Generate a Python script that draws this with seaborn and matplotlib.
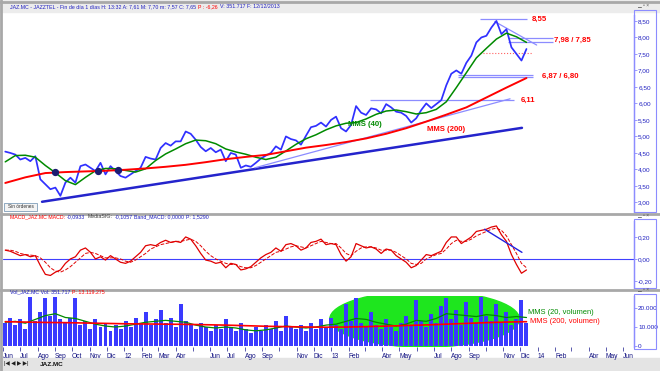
import pandas as pd
import matplotlib
matplotlib.use('Agg')
import matplotlib.pyplot as plt
import matplotlib.dates as mdates
from matplotlib.patches import Ellipse, Rectangle
from matplotlib.lines import Line2D
from matplotlib.ticker import FuncFormatter
import seaborn as sns

# JAZ.MC, one value about every 9 days, Jun 2011 -> 12/12/2013
price = [
    4.54, 4.50, 4.45, 4.30, 4.35, 4.25, 4.40, 3.70, 3.55, 3.40,
    3.45, 3.20, 3.60, 3.75, 3.60, 4.10, 4.15, 4.05, 3.95, 4.20,
    3.85, 4.10, 3.95, 3.80, 3.75, 3.85, 3.95, 4.05, 4.38, 4.33,
    4.30, 4.65, 4.80, 4.72, 4.85, 4.85, 5.15, 5.08, 4.90, 4.68,
    4.55, 4.65, 4.52, 4.60, 4.25, 4.50, 4.45, 4.05, 4.12, 4.08,
    4.20, 4.33, 4.42, 4.50, 4.70, 4.60, 5.00, 4.92, 4.88, 4.75,
    5.02, 5.28, 5.32, 5.42, 5.30, 5.50, 5.60, 5.25, 5.15, 5.35,
    5.92, 5.72, 5.65, 5.85, 5.82, 5.70, 5.98, 5.88, 5.75, 5.72,
    5.62, 5.42, 5.55, 5.80, 6.00, 5.86, 5.98, 6.10, 6.55, 6.90,
    7.00, 6.90, 7.23, 7.45, 7.85, 8.00, 8.05, 8.30, 8.50, 8.10,
    8.25, 7.70, 7.50, 7.30, 7.65]

mms40 = [
    4.23, 4.42, 4.43, 4.37, 4.12, 3.90, 3.66, 3.54, 3.76, 3.96,
    4.03, 4.02, 3.97, 3.92, 4.02, 4.27, 4.47, 4.62, 4.78, 4.89,
    4.87, 4.78, 4.62, 4.53, 4.46, 4.37, 4.30, 4.37, 4.56, 4.76,
    4.93, 5.05, 5.20, 5.32, 5.40, 5.42, 5.53, 5.67, 5.77, 5.80,
    5.75, 5.68, 5.72, 5.82, 6.05, 6.48, 6.93, 7.38, 7.67, 7.95,
    8.13, 8.02, 7.85]

mms200 = [
    3.59, 3.76, 3.89, 3.92, 3.94, 3.96, 3.99, 4.03, 4.08, 4.14,
    4.22, 4.31, 4.38, 4.44, 4.55, 4.66, 4.74, 4.83, 4.94, 5.08,
    5.25, 5.45, 5.66, 5.88, 6.18, 6.48, 6.77]

macd = [
    0.08, 0.07, 0.05, 0.03, 0.04, 0.02, 0.03, -0.06, -0.14, -0.15,
    -0.12, -0.10, -0.04, 0.00, 0.02, 0.08, 0.10, 0.06, 0.00, 0.02,
    -0.01, 0.03, 0.00, -0.03, -0.04, -0.02, 0.02, 0.06, 0.12, 0.13,
    0.12, 0.15, 0.17, 0.15, 0.16, 0.15, 0.20, 0.18, 0.12, 0.05,
    -0.01, -0.02, -0.04, -0.03, -0.08, -0.04, -0.05, -0.10, -0.09, -0.07,
    -0.03, 0.01, 0.04, 0.06, 0.10, 0.07, 0.13, 0.14, 0.12, 0.08,
    0.10, 0.15, 0.16, 0.18, 0.13, 0.14, 0.13, 0.04, -0.02, 0.02,
    0.14, 0.12, 0.10, 0.11, 0.09, 0.05, 0.09, 0.08, 0.03, 0.00,
    -0.03, -0.08, -0.06, -0.01, 0.04, 0.03, 0.05, 0.07, 0.15, 0.20,
    0.20, 0.14, 0.17, 0.20, 0.25, 0.26, 0.27, 0.29, 0.30, 0.22,
    0.16, 0.04, -0.05, -0.13, -0.10]

macd_signal = [
    0.08, 0.08, 0.07, 0.05, 0.04, 0.035, 0.03, 0.01, -0.03, -0.08,
    -0.11, -0.12, -0.10, -0.07, -0.03, 0.01, 0.05, 0.06, 0.05, 0.03,
    0.01, 0.01, 0.01, 0.00, -0.02, -0.03, -0.01, 0.02, 0.05, 0.09,
    0.11, 0.13, 0.14, 0.15, 0.16, 0.16, 0.17, 0.18, 0.16, 0.12,
    0.07, 0.03, 0.00, -0.02, -0.04, -0.05, -0.05, -0.07, -0.08, -0.08,
    -0.06, -0.03, 0.00, 0.03, 0.06, 0.07, 0.09, 0.11, 0.12, 0.11,
    0.10, 0.12, 0.14, 0.16, 0.15, 0.14, 0.14, 0.10, 0.05, 0.03,
    0.07, 0.10, 0.11, 0.11, 0.10, 0.08, 0.08, 0.08, 0.06, 0.03,
    0.00, -0.04, -0.05, -0.04, 0.00, 0.02, 0.04, 0.05, 0.09, 0.14,
    0.17, 0.16, 0.16, 0.18, 0.21, 0.23, 0.25, 0.27, 0.28, 0.26,
    0.21, 0.13, 0.05, -0.04, -0.08]

volume = [
    12000, 15000, 11000, 14000, 9000, 26000, 13000, 18000, 25000, 16000,
    26000, 14000, 12000, 15000, 25000, 11000, 13000, 9000, 14000, 10000,
    12000, 8000, 11000, 9000, 13000, 10000, 15000, 12000, 18000, 11000,
    14000, 19000, 12000, 15000, 10000, 22000, 13000, 11000, 9000, 12000,
    10000, 8000, 11000, 9000, 14000, 10000, 8000, 12000, 9000, 7000,
    10000, 8000, 11000, 9000, 13000, 8000, 16000, 10000, 9000, 11000,
    8000, 12000, 9000, 14000, 10000, 15000, 11000, 9000, 22000, 13000,
    25000, 12000, 10000, 18000, 11000, 9000, 14000, 10000, 8000, 12000,
    16000, 11000, 24000, 13000, 10000, 17000, 12000, 21000, 25000, 14000,
    19000, 11000, 23000, 15000, 12000, 26000, 16000, 13000, 22000, 12000,
    18000, 11000, 14000, 24000, 12000]

vol_mms20 = [
    12500, 13000, 12000, 14000, 16000, 17000, 15000, 14500, 13000, 11500,
    10500, 10000, 10500, 11500, 12500, 13000, 13500, 13000, 12500, 11000,
    10000, 9500, 10000, 9500, 8500, 8000, 8500, 9500, 10500, 10000,
    9500, 10000, 11000, 11500, 13000, 14500, 14000, 12500, 11500, 10500,
    11500, 13500, 13000, 14500, 17000, 16500, 16000, 15500, 16500, 16000,
    15000, 15500, 15000]

vol_mms200 = [
    12800, 12600, 12400, 12300, 12100, 11900, 11700, 11600, 11500, 11400,
    11200, 11000, 10700, 10400, 10200, 10000, 9900, 10000, 10200, 10500,
    10800, 11100, 11500, 11900, 12300, 12600, 12800]

price_ticks = [3.0, 3.5, 4.0, 4.5, 5.0, 5.5, 6.0, 6.5, 7.0, 7.5, 8.0, 8.5]
macd_ticks = [-0.2, 0.0, 0.2]
vol_ticks = [0, 10000, 20000]
month_labels = ['Jun', 'Jul', 'Ago', 'Sep', 'Oct', 'Nov', 'Dic',
                '12', 'Feb', 'Mar', 'Abr', '', 'Jun', 'Jul', 'Ago', 'Sep', '', 'Nov', 'Dic',
                '13', 'Feb', '', 'Abr', 'May', '', 'Jul', 'Ago', 'Sep', '', 'Nov', 'Dic',
                '14', 'Feb', '', 'Abr', 'May', 'Jun']

W, H = 660, 371
T = pd.Timestamp

start, end = T('2011-06-05'), T('2013-12-12')
d_price = pd.date_range(start, end, periods=len(price))
d_m40 = pd.date_range(start, end, periods=len(mms40))
d_m200 = pd.date_range(start, end, periods=len(mms200))
d_v20 = pd.date_range(start, end, periods=len(vol_mms20))
d_v200 = pd.date_range(start, end, periods=len(vol_mms200))
months = pd.date_range('2011-06-01', periods=len(month_labels), freq='MS')

sns.set_theme(style='white')
plt.rcParams['font.family'] = ['Liberation Sans', 'DejaVu Sans']

BLUE = '#3030ff'
LIGHT = '#8c8cff'
RED = '#ff0000'
GREEN = '#008a00'
TXT = '#2020c0'

fig = plt.figure(figsize=(6.6, 3.71), dpi=100)
fig.patch.set_facecolor('white')


def box(x0, y0, x1, y1):
    return [x0 / W, 1 - y1 / H, (x1 - x0) / W, (y1 - y0) / H]


def px(x, y):
    return x / W, 1 - y / H


ax_p = fig.add_axes(box(3, 15, 634, 212))
ax_m = fig.add_axes(box(3, 221, 634, 288), sharex=ax_p)
ax_v = fig.add_axes(box(3, 296, 634, 347), sharex=ax_p)

# ---- price panel
sns.lineplot(x=d_price, y=price, ax=ax_p, color=BLUE, lw=1.25, zorder=3)
sns.lineplot(x=d_m40, y=mms40, ax=ax_p, color=GREEN, lw=1.1, zorder=4)
sns.lineplot(x=d_m200, y=mms200, ax=ax_p, color=RED, lw=1.4, zorder=4)

# trend lines and levels
ax_p.plot([T('2011-08-09'), T('2013-12-04')], [3.02, 5.26], color='#2424cc', lw=1.8, zorder=2)
ax_p.plot([T('2012-08-19'), T('2013-11-13')], [4.05, 6.14], color=LIGHT, lw=0.9, zorder=2)
ax_p.plot([T('2013-10-17'), T('2013-12-30')], [8.48, 7.77], color=LIGHT, lw=0.9, zorder=2)
ax_p.hlines(6.11, T('2013-03-10'), T('2013-11-20'), color=LIGHT, lw=0.9)
ax_p.hlines(8.55, T('2013-09-21'), T('2013-12-13'), color=LIGHT, lw=0.9)
ax_p.hlines([7.98, 7.85], T('2013-11-09'), T('2014-01-28'), color=LIGHT, lw=0.9)
ax_p.hlines([6.87, 6.80], T('2013-08-13'), T('2013-12-23'), color=LIGHT, lw=0.9)
ax_p.hlines(7.53, T('2013-09-21'), T('2013-12-23'), color='#ff6060', lw=0.8, linestyles=':')

ax_p.scatter([T('2011-09-01'), T('2011-11-16'), T('2011-12-21')], [3.92, 3.95, 3.98],
             s=18, color='#1c1c70', zorder=5, marker='o')

lab = dict(fontsize=5.6, fontweight='bold', va='center', ha='left', color=RED)
ax_p.text(T('2013-12-21'), 8.55, '8,55', **lab)
ax_p.text(T('2014-01-30'), 7.92, '7,98 / 7,85', **lab)
ax_p.text(T('2014-01-08'), 6.82, '6,87 / 6,80', **lab)
ax_p.text(T('2013-12-01'), 6.10, '6,11', **lab)
ax_p.text(T('2013-06-19'), 5.22, 'MMS (200)', **lab)
ax_p.text(T('2013-01-30'), 5.36, 'MMS (40)', **dict(lab, color=GREEN))

ax_p.set_ylim(2.71, 8.68)
ax_p.set_yticks(price_ticks)
ax_p.yaxis.set_major_formatter(FuncFormatter(lambda v, _: f'{v:.2f}'.replace('.', ',')))

# ---- MACD panel
ax_m.axhline(0, color='#4040ff', lw=0.8, zorder=1)
sns.lineplot(x=d_price, y=macd, ax=ax_m, color='#e00000', lw=0.9, zorder=3)
sns.lineplot(x=d_price, y=macd_signal, ax=ax_m, color='#e00000', lw=0.7, zorder=3,
             linestyle='--')
ax_m.plot([T('2013-09-29'), T('2013-12-04')], [0.27, 0.06], color='#2020e0', lw=1.0, zorder=4)
ax_m.set_ylim(-0.264, 0.345)
ax_m.set_yticks(macd_ticks)
ax_m.yaxis.set_major_formatter(FuncFormatter(lambda v, _: f'{v:.2f}'.replace('.', ',')))

# ---- volume panel
ax_v.add_patch(Ellipse((mdates.date2num(T('2013-06-15')), 14200), width=335, height=29500,
                       color='#1ee61e', zorder=1))
ax_v.bar(d_price, volume, width=7.0, color='#3a3aff', lw=0, zorder=2)
sns.lineplot(x=d_v20, y=vol_mms20, ax=ax_v, color=GREEN, lw=0.9, zorder=3)
sns.lineplot(x=d_v200, y=vol_mms200, ax=ax_v, color=RED, lw=1.2, zorder=4)
ax_v.text(T('2013-12-15'), 17400, 'MMS (20, volumen)', fontsize=5.4, color=GREEN,
          va='center', ha='left')
ax_v.text(T('2013-12-19'), 13000, 'MMS (200, volumen)', fontsize=5.4, color=RED,
          va='center', ha='left')
ax_v.set_ylim(-500, 26300)
ax_v.set_yticks(vol_ticks)
ax_v.yaxis.set_major_formatter(FuncFormatter(lambda v, _: f'{int(v):,}'.replace(',', '.')))

for ax in (ax_p, ax_m, ax_v):
    ax.set_facecolor('white')
    for s in ('top', 'left', 'bottom'):
        ax.spines[s].set_visible(False)
    ax.spines['right'].set_color(LIGHT)
    ax.spines['right'].set_linewidth(1)
    ax.yaxis.tick_right()
    ax.tick_params(axis='y', which='both', right=True, left=False, length=2,
                   width=0.6, color=LIGHT, labelsize=4.6, labelcolor=TXT, pad=1)
    ax.grid(False)
    ax.set_xlabel('')
    ax.set_ylabel('')

ax_p.tick_params(axis='x', bottom=False, labelbottom=False)
ax_m.tick_params(axis='x', bottom=False, labelbottom=False)

ax_v.set_xlim(T('2011-06-01'), T('2014-06-20'))
ax_v.set_xticks(months)
ax_v.set_xticklabels(month_labels)
ax_v.tick_params(axis='x', bottom=True, length=3, width=0.6, color='#4040a0',
                 labelsize=4.8, labelcolor='#101080', pad=1.5)
for t in ax_v.get_xticklabels():
    t.set_ha('left')

# ---- window chrome
fig.add_artist(Rectangle(px(0, 12), 660 / W, 12 / H, color='#ececec', zorder=0))
for y in (1.5, 213.5, 289.5):
    fig.add_artist(Line2D([0, 1], [1 - y / H] * 2, color='#a8a8a8', lw=2))
fig.add_artist(Line2D([1 / W] * 2, [0, 1], color='#a8a8a8', lw=2))
for y0, y1 in ((10, 212), (219, 288), (294, 349)):
    fig.add_artist(Rectangle(px(634, y1), 22 / W, (y1 - y0) / H, fill=False,
                             ec=LIGHT, lw=0.8))
    fig.text(*px(638, y0 - 4), '▁ ▫ ×', fontsize=3.5, color='#505050', va='center')

fig.add_artist(Rectangle(px(0, 371), 1, 13 / H, color='#e4e4e4', zorder=0))
fig.text(*px(4, 364), '|◀ ◀ ▶ ▶|', fontsize=4, color='#202020', va='center')
fig.text(*px(40, 364), 'JAZ.MC', fontsize=4.6, color='#101010', va='center', fontweight='bold')

fig.add_artist(Rectangle(px(4, 211), 33 / W, 8 / H, fc='#f4f4f4', ec='#7f9db9', lw=0.6))
fig.text(*px(20.5, 207), 'Sin órdenes', fontsize=3.4, color='#303030', va='center', ha='center')

renderer = fig.canvas.get_renderer()


def colour_text(x, y, parts, size=4.2):
    for s, c in parts:
        t = fig.text(*px(x, y), s, color=c, fontsize=size, va='center', ha='left')
        x += t.get_window_extent(renderer=renderer).width + 2


colour_text(10, 7, [('JAZ.MC - JAZZTEL - Fin de día 1 días H: 13:32 A: 7,61 M: 7,70 m: 7,57 C: 7,65', TXT),
                    ('P : -6,26', RED), ('V: 351.717 F: 12/12/2013', TXT)], size=3.8)
colour_text(10, 217, [('MACD_JAZ.MC MACD:', RED), ('-0,0933', TXT), ('MediaSIG:', '#404040'),
                      ('-0,1057', TXT), ('Band_MACD: 0,0000', TXT), ('P: 1,5290', TXT)], size=3.8)
colour_text(10, 292, [('Vol_JAZ.MC Vol: 351.717', TXT), ('P: 13.119.275', RED)], size=3.8)

fig.savefig('out.png', dpi=100)
